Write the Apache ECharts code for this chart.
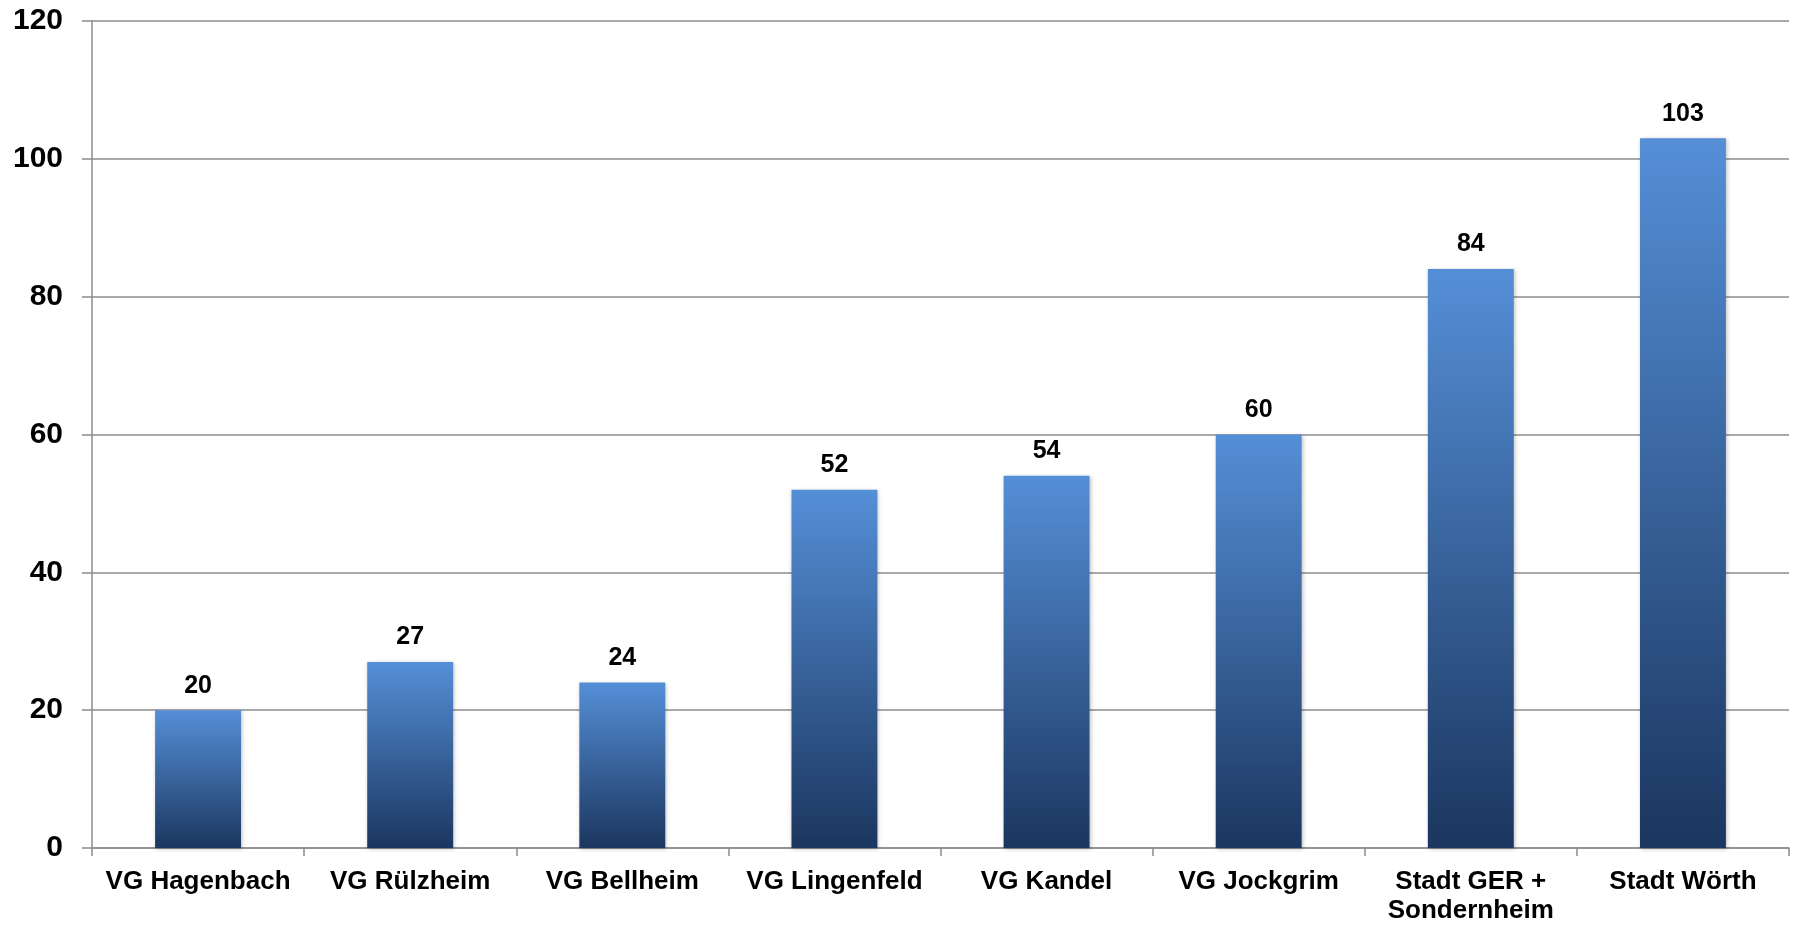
<!DOCTYPE html>
<html>
<head>
<meta charset="utf-8">
<script src="https://cdn.jsdelivr.net/npm/echarts@6/dist/echarts.min.js"></script>
<style>
html,body{margin:0;padding:0;background:#fff;}
#chart{width:1794px;height:925px;}
</style>
</head>
<body>
<div id="chart"></div>
<script>
const categories = ['VG Hagenbach', 'VG Rülzheim', 'VG Bellheim', 'VG Lingenfeld', 'VG Kandel', 'VG Jockgrim', 'Stadt GER +\nSondernheim', 'Stadt Wörth'];
const values = [20, 27, 24, 52, 54, 60, 84, 103];
const yTicks = { min: 0, max: 120, interval: 20 };

const FONT = '"Liberation Sans", Arial, sans-serif';
const chart = echarts.init(document.getElementById('chart'));
chart.setOption({
  animation: false,
  backgroundColor: '#ffffff',
  grid: { left: 92, right: 5, top: 21, bottom: 73, containLabel: false },
  xAxis: {
    type: 'category',
    data: categories,
    axisLine: { lineStyle: { color: '#8c8c8c', width: 1.5 } },
    axisTick: { show: true, length: 8, lineStyle: { color: '#8c8c8c', width: 1.5 } },
    axisLabel: {
      color: '#000', fontFamily: FONT, fontWeight: 'bold', fontSize: 26,
      lineHeight: 29, margin: 19, interval: 0
    },
    splitLine: { show: false }
  },
  yAxis: {
    type: 'value',
    min: yTicks.min, max: yTicks.max, interval: yTicks.interval,
    axisLine: { show: true, lineStyle: { color: '#8c8c8c', width: 1.5 } },
    axisTick: { show: true, length: 10, lineStyle: { color: '#8c8c8c', width: 1.5 } },
    axisLabel: { color: '#000', fontFamily: FONT, fontWeight: 'bold', fontSize: 30, margin: 29 },
    splitLine: { show: true, lineStyle: { color: '#8c8c8c', width: 1.5 } }
  },
  series: [{
    type: 'bar',
    data: values,
    barWidth: '40.5%',
    itemStyle: {
      color: new echarts.graphic.LinearGradient(0, 0, 0, 1, [
        { offset: 0, color: '#558fd7' },
        { offset: 1, color: '#1b365f' }
      ]),
      shadowColor: 'rgba(0,0,0,0.25)',
      shadowBlur: 4,
      shadowOffsetX: 1,
      shadowOffsetY: 1
    },
    label: {
      show: true, position: 'top', distance: 12,
      color: '#000', fontFamily: FONT, fontWeight: 'bold', fontSize: 25
    }
  }]
});
</script>
</body>
</html>
